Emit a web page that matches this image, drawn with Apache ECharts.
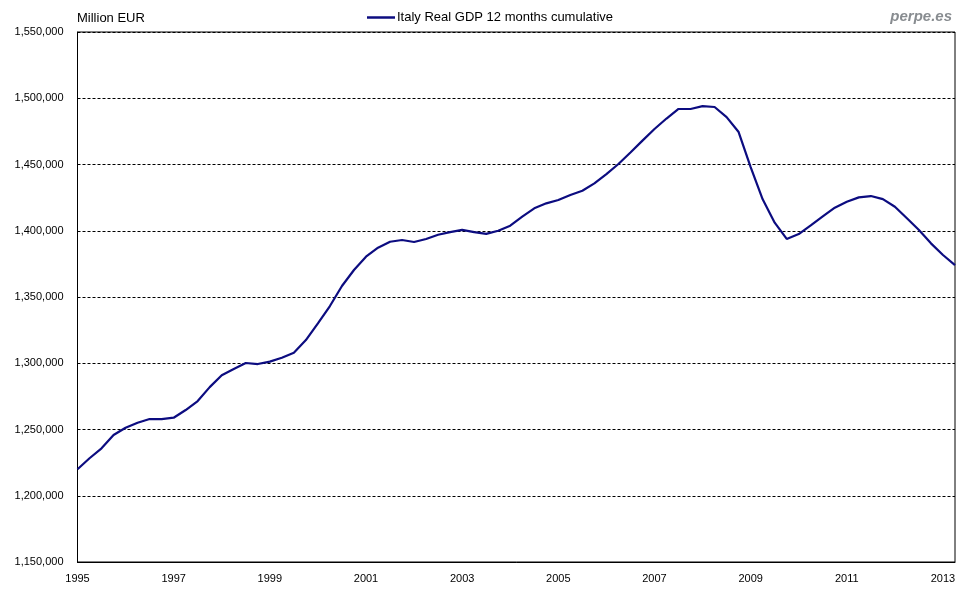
<!DOCTYPE html>
<html>
<head>
<meta charset="utf-8">
<script src="https://cdn.jsdelivr.net/npm/echarts@6/dist/echarts.min.js"></script>
<style>
html,body{margin:0;padding:0;background:#fff;}
#chart{width:980px;height:600px;}
</style>
</head>
<body>
<div id="chart"></div>
<script>
// Quarterly periods, 1995 Q1 .. 2013 Q2
var startYear = 1995;
var quarters = [];
// values: Italy Real GDP, 12 months cumulative (million EUR)
var gdpValues = [
  1220000, 1228300, 1235800, 1245800, 1251300, 1255100, 1257900, 1257900,
  1258900, 1264700, 1271500, 1282000, 1291000, 1295700, 1300200, 1299400,
  1301200, 1304200, 1308000, 1317500, 1330100, 1343200, 1358300, 1370400,
  1380400, 1387200, 1391700, 1393000, 1391500, 1393800, 1397000, 1399000,
  1400600, 1399000, 1397600, 1400000, 1403800, 1410600, 1416900, 1420700,
  1423200, 1427000, 1430200, 1435800, 1442800, 1450400, 1459000, 1468000,
  1476800, 1484700, 1491900, 1491900, 1494100, 1493400, 1485800, 1474500,
  1448000, 1423700, 1406100, 1393800, 1397500, 1404000, 1410800, 1417400,
  1421900, 1425200, 1426200, 1423900, 1418100, 1409400, 1400600, 1390500,
  1381700, 1374100
];
for (var i = 0; i < gdpValues.length; i++) {
  quarters.push((startYear + Math.floor(i / 4)) + ' Q' + (i % 4 + 1));
}
var seriesName = 'Italy Real GDP 12 months cumulative';
var yMin = 1150000, yMax = 1550000, yStep = 50000;

var chart = echarts.init(document.getElementById('chart'));
chart.setOption({
  animation: false,
  backgroundColor: '#fff',
  textStyle: { fontFamily: 'Liberation Sans, Arial, sans-serif' },
  grid: { left: 77.5, right: 25, top: 32, bottom: 38, show: true, borderColor: '#000', borderWidth: 1, backgroundColor: 'transparent' },
  title: [
    { text: 'Million EUR', left: 72, top: 7, textStyle: { fontSize: 13, fontWeight: 'normal', color: '#000', fontFamily: 'Liberation Sans, Arial, sans-serif' } },
    { text: 'perpe.es', right: 23, top: 4, textStyle: { fontSize: 15, fontWeight: 'bold', fontStyle: 'italic', color: '#888c90', fontFamily: 'Liberation Sans, Arial, sans-serif' } }
  ],
  legend: {
    top: 6, left: 'center',
    icon: 'rect', itemWidth: 28, itemHeight: 2.5, itemGap: 10,
    textStyle: { fontSize: 13, color: '#000', padding: [0, 0, 0, -3] },
    data: [seriesName]
  },
  xAxis: {
    type: 'category',
    data: quarters,
    boundaryGap: false,
    axisLine: { show: true, lineStyle: { color: '#000', width: 1 } },
    axisTick: { show: false },
    splitLine: { show: false },
    axisLabel: {
      interval: 7, margin: 11, fontSize: 11, color: '#000',
      formatter: function (v) { return v.split(' ')[0]; }
    }
  },
  yAxis: {
    type: 'value',
    min: yMin, max: yMax, interval: yStep,
    axisLine: { show: true, lineStyle: { color: '#000', width: 1 } },
    axisTick: { show: false },
    splitLine: { show: true, lineStyle: { color: '#000', type: [3, 2], width: 1 } },
    axisLabel: {
      fontSize: 11, color: '#000', margin: 14,
      formatter: function (v) { return v.toString().replace(/\B(?=(\d{3})+(?!\d))/g, ','); }
    }
  },
  series: [{
    name: seriesName,
    type: 'line',
    data: gdpValues,
    showSymbol: false,
    symbol: 'none',
    lineStyle: { color: '#0c0c80', width: 2.2 },
    itemStyle: { color: '#0c0c80' }
  }]
});
</script>
</body>
</html>
